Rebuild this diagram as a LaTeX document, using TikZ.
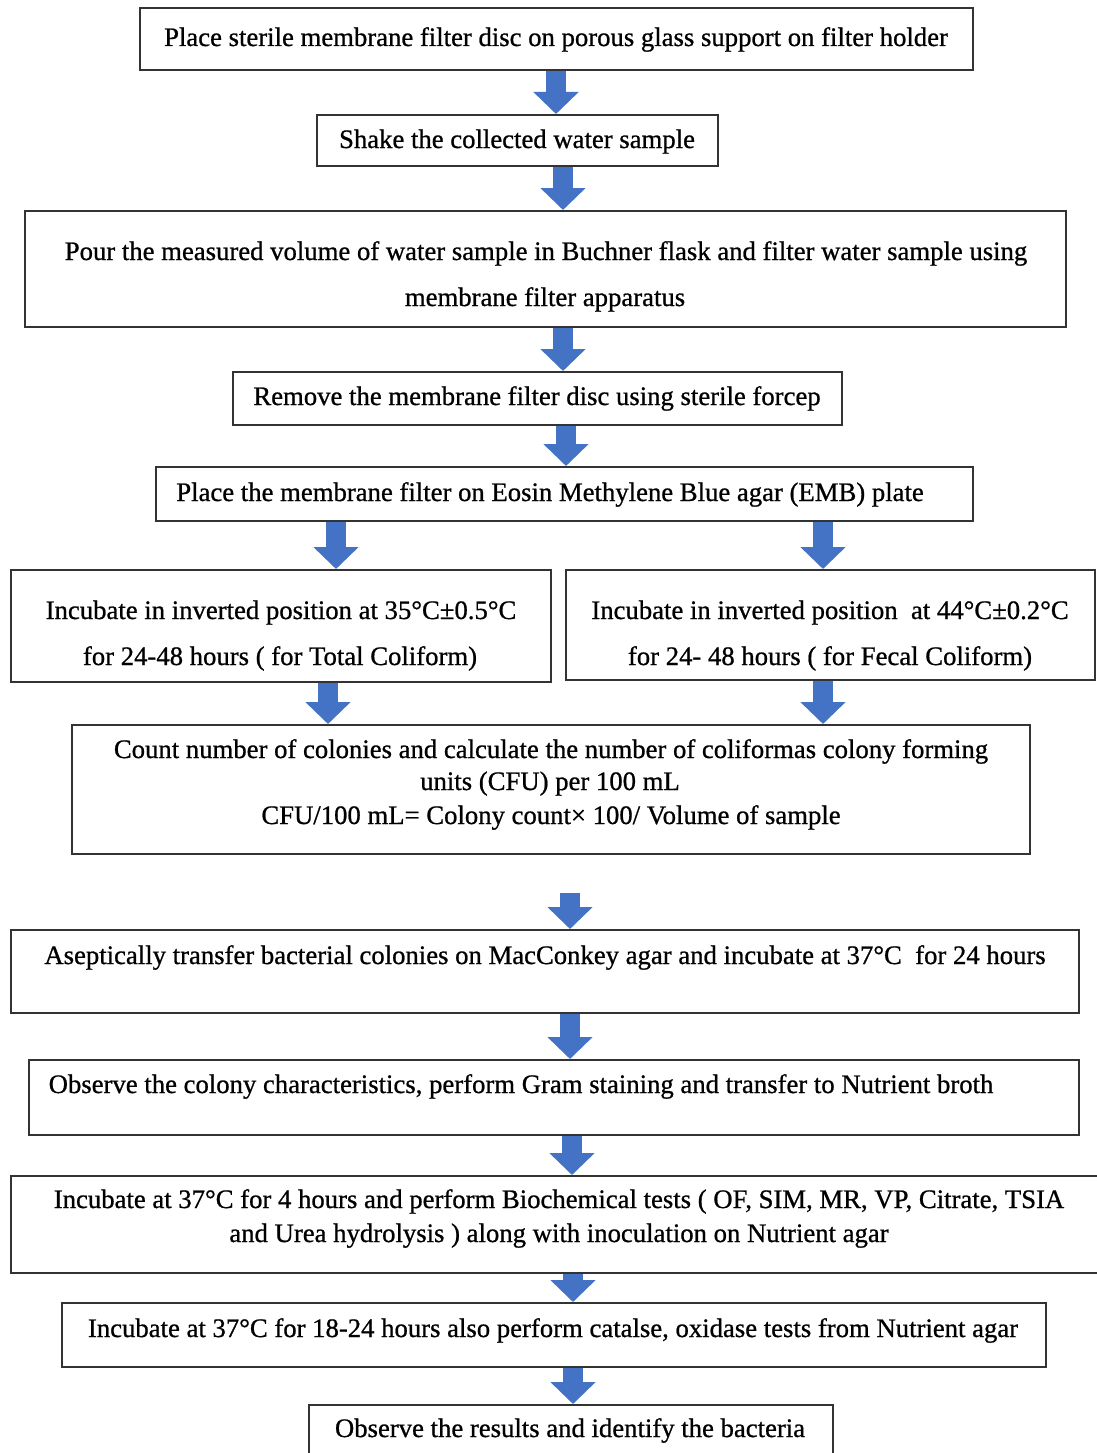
\documentclass[tikz,border=0pt]{standalone}
\usepackage{fontspec}
\setmainfont{Liberation Serif}[FakeBold=0.8]
\usetikzlibrary{arrows.meta}
\definecolor{arrowblue}{HTML}{4472C4}
\begin{document}
\begin{tikzpicture}[x=1pt,y=-1pt,
 box/.style={draw=black!80, line width=2pt, fill=white, inner sep=0pt, rectangle},
 txt/.style={anchor=base, inner sep=0pt, font=\fontsize{26.7}{30}\selectfont},
 barrow/.style={draw=arrowblue, line width=20pt, -{Triangle[width=44pt,length=22pt]}}]
\useasboundingbox[fill=white] (0,0) rectangle (1097,1453);

% boxes
\node[box, minimum width=833pt, minimum height=62pt] (b1) at (556.5,39) {};
\node[box, minimum width=401pt, minimum height=51pt] (b2) at (517.5,140.5) {};
\node[box, minimum width=1041pt, minimum height=116pt] (b3) at (545.5,269) {};
\node[box, minimum width=609pt, minimum height=53pt] (b4) at (537.5,398.5) {};
\node[box, minimum width=817pt, minimum height=54pt] (b5) at (564.5,494) {};
\node[box, minimum width=540pt, minimum height=112pt] (b6a) at (281,626) {};
\node[box, minimum width=529pt, minimum height=110pt] (b6b) at (830.5,625) {};
\node[box, minimum width=958pt, minimum height=129pt] (b7) at (551,789.5) {};
\node[box, minimum width=1068pt, minimum height=83pt] (b8) at (545,971.5) {};
\node[box, minimum width=1050pt, minimum height=75pt] (b9) at (554,1097.5) {};
\node[box, minimum width=1094pt, minimum height=97pt] (b10) at (558,1224.5) {};
\node[box, minimum width=984pt, minimum height=64pt] (b11) at (554,1335) {};
\node[box, minimum width=524pt, minimum height=60pt] (b12) at (571,1435) {};

% texts
\node[txt] (t1) at (556,46) {Place sterile membrane filter disc on porous glass support on filter holder};
\node[txt] (t2) at (517,148) {Shake the collected water sample};
\node[txt] (t3a) at (546,260) {Pour the measured volume of water sample in Buchner flask and filter water sample using};
\node[txt] (t3b) at (545,306) {membrane filter apparatus};
\node[txt] (t4) at (537,405) {Remove the membrane filter disc using sterile forcep};
\node[txt] (t5) at (550,501) {Place the membrane filter on Eosin Methylene Blue agar (EMB) plate};
\node[txt] (t6a1) at (281,619) {Incubate in inverted position at 35°C±0.5°C};
\node[txt] (t6a2) at (280,665) {for 24-48 hours ( for Total Coliform)};
\node[txt] (t6b1) at (830,619) {Incubate in inverted position\ \ at 44°C±0.2°C};
\node[txt] (t6b2) at (830,665) {for 24- 48 hours ( for Fecal Coliform)};
\node[txt] (t7a) at (551,758) {Count number of colonies and calculate the number of coliformas colony forming};
\node[txt] (t7b) at (550,790) {units (CFU) per 100 mL};
\node[txt] (t7c) at (551,824) {CFU/100 mL= Colony count× 100/ Volume of sample};
\node[txt] (t8) at (545,964) {Aseptically transfer bacterial colonies on MacConkey agar and incubate at 37°C\ \ for 24 hours};
\node[txt] (t9) at (521,1093) {Observe the colony characteristics, perform Gram staining and transfer to Nutrient broth};
\node[txt] (t10a) at (559,1208) {Incubate at 37°C for 4 hours and perform Biochemical tests ( OF, SIM, MR, VP, Citrate, TSIA};
\node[txt] (t10b) at (559,1242) {and Urea hydrolysis ) along with inoculation on Nutrient agar};
\node[txt] (t11) at (553,1337) {Incubate at 37°C for 18-24 hours also perform catalse, oxidase tests from Nutrient agar};
\node[txt] (t12) at (570,1437) {Observe the results and identify the bacteria};

% arrow axes
\coordinate (ax1) at (556,0);
\coordinate (ax2) at (563,0);
\coordinate (ax3) at (563,0);
\coordinate (ax4) at (566,0);
\coordinate (ax5a) at (336,0);
\coordinate (ax5b) at (823,0);
\coordinate (ax6a) at (328,0);
\coordinate (ax6b) at (823,0);
\coordinate (s7) at (570,893);
\coordinate (ax8) at (570,0);
\coordinate (ax9) at (572,0);
\coordinate (ax10) at (573,0);
\coordinate (ax11) at (573,0);

% arrows
\draw[barrow] (b1.south -| ax1) -- (b2.north -| ax1);
\draw[barrow] (b2.south -| ax2) -- (b3.north -| ax2);
\draw[barrow] (b3.south -| ax3) -- (b4.north -| ax3);
\draw[barrow] (b4.south -| ax4) -- (b5.north -| ax4);
\draw[barrow] (b5.south -| ax5a) -- (b6a.north -| ax5a);
\draw[barrow] (b5.south -| ax5b) -- (b6b.north -| ax5b);
\draw[barrow] (b6a.south -| ax6a) -- (b7.north -| ax6a);
\draw[barrow] (b6b.south -| ax6b) -- (b7.north -| ax6b);
\draw[barrow] (s7) -- (b8.north -| s7);
\draw[barrow] (b8.south -| ax8) -- (b9.north -| ax8);
\draw[barrow] (b9.south -| ax9) -- (b10.north -| ax9);
\draw[barrow] (b10.south -| ax10) -- (b11.north -| ax10);
\draw[barrow] (b11.south -| ax11) -- (b12.north -| ax11);
\end{tikzpicture}
\end{document}
